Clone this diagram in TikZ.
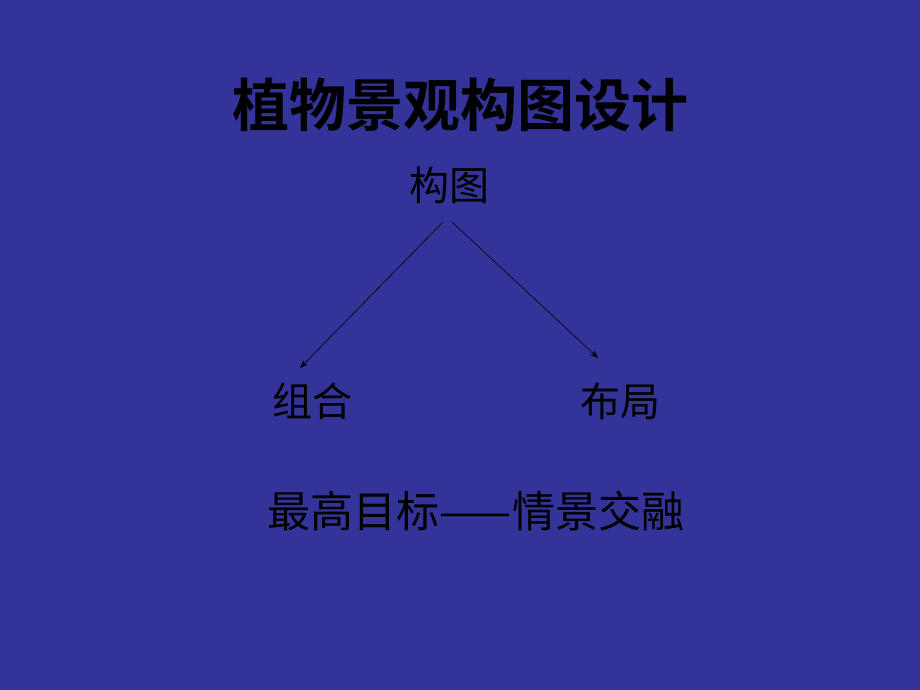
\documentclass[tikz,border=0pt]{standalone}
\usepackage{fontspec}
\usetikzlibrary{arrows.meta}
\setmainfont{Noto Sans CJK SC}
\newfontfamily\cjkb{Noto Sans CJK SC Bold}
\definecolor{bg}{HTML}{333399}
\tikzset{lbl/.style={font=\fontsize{40}{42}\selectfont, text=black, inner sep=0pt},
 arr/.style={-{Stealth[length=8pt,width=6pt]}, line width=0.6pt}}
\begin{document}
\begin{tikzpicture}[x=1pt,y=-1pt]
\fill[bg] (0,0) rectangle (920,690);
\useasboundingbox (0,0) rectangle (920,690);
\node[inner sep=0pt, font=\cjkb\fontsize{57}{60}\selectfont] (title) at (460,105) {植物景观构图设计};
\node[lbl] (top) at (449,185) {构图};
\node[lbl] (l) at (312,401) {组合};
\node[lbl] (r) at (620,401) {布局};
\node[lbl, font=\fontsize{43}{45}\selectfont] (bot) at (476,511) {最高目标——情景交融};
\coordinate (a1) at (443,222); \coordinate (a2) at (300,368);
\coordinate (b1) at (452,222); \coordinate (b2) at (598,358);
\draw[arr] (a1) -- (a2);
\draw[arr] (b1) -- (b2);
\end{tikzpicture}
\end{document}
